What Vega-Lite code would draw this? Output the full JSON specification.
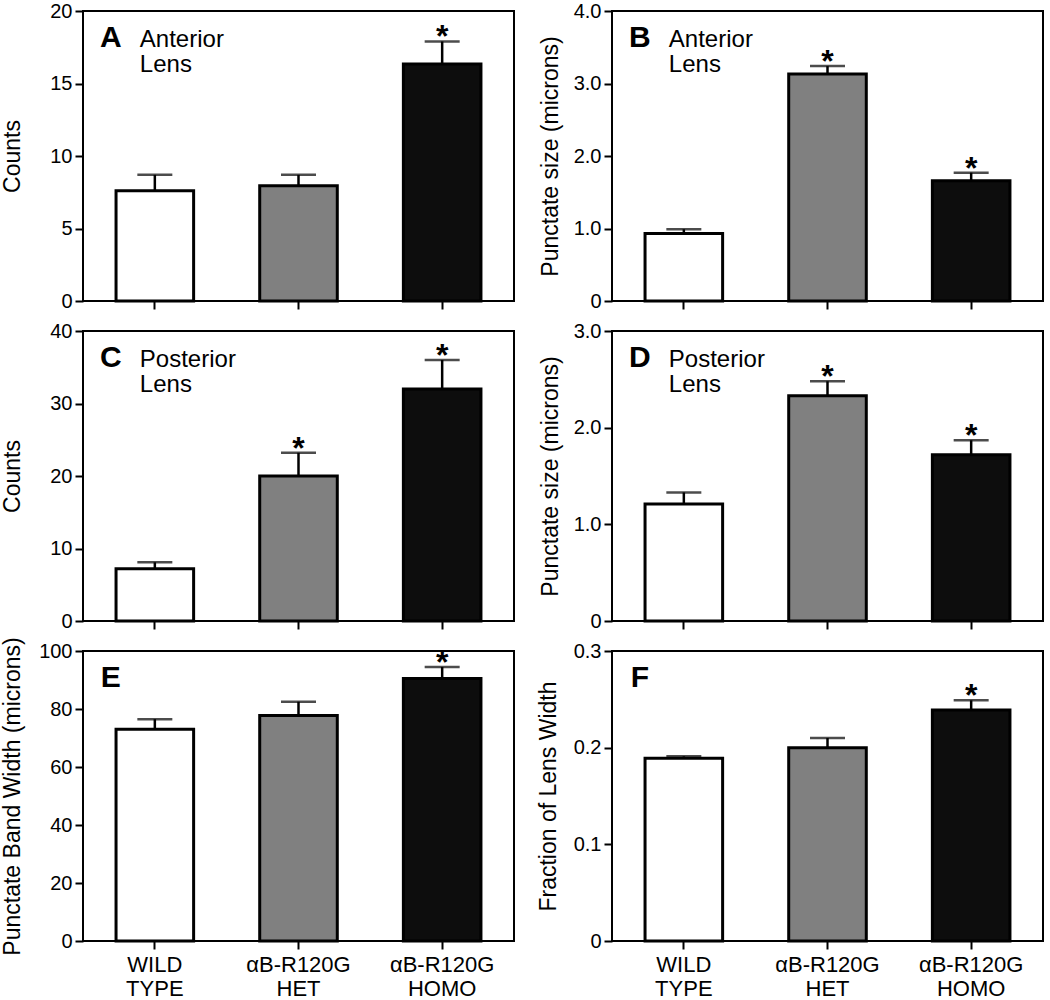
{
  "$schema": "https://vega.github.io/schema/vega-lite/v6.json",
  "background": "white",
  "padding": {"left": 0, "top": 0, "right": 5, "bottom": 0},
  "config": {
    "font": "Liberation Sans",
    "view": {"stroke": "black", "strokeWidth": 2},
    "axis": {"domain": false, "grid": false, "tickColor": "black", "tickSize": 8, "tickWidth": 2, "labelColor": "black", "titleColor": "black", "labelFont": "Liberation Sans", "titleFont": "Liberation Sans", "titleFontWeight": "normal", "labelFontSize": 20, "titleFontSize": 23, "labelPadding": 3},
    "text": {"color": "black", "font": "Liberation Sans"}
  },
  "datasets": {
    "A": [
      {"group": "WILD TYPE", "mean": 7.6, "upper": 8.7, "star": ""},
      {"group": "αB-R120G HET", "mean": 7.95, "upper": 8.7, "star": ""},
      {"group": "αB-R120G HOMO", "mean": 16.35, "upper": 17.9, "star": "*"}
    ],
    "B": [
      {"group": "WILD TYPE", "mean": 0.93, "upper": 0.99, "star": ""},
      {"group": "αB-R120G HET", "mean": 3.13, "upper": 3.24, "star": "*"},
      {"group": "αB-R120G HOMO", "mean": 1.66, "upper": 1.77, "star": "*"}
    ],
    "C": [
      {"group": "WILD TYPE", "mean": 7.2, "upper": 8.1, "star": ""},
      {"group": "αB-R120G HET", "mean": 20.0, "upper": 23.2, "star": "*"},
      {"group": "αB-R120G HOMO", "mean": 32.0, "upper": 36.0, "star": "*"}
    ],
    "D": [
      {"group": "WILD TYPE", "mean": 1.21, "upper": 1.33, "star": ""},
      {"group": "αB-R120G HET", "mean": 2.33, "upper": 2.48, "star": "*"},
      {"group": "αB-R120G HOMO", "mean": 1.72, "upper": 1.87, "star": "*"}
    ],
    "E": [
      {"group": "WILD TYPE", "mean": 73.0, "upper": 76.5, "star": ""},
      {"group": "αB-R120G HET", "mean": 77.8, "upper": 82.5, "star": ""},
      {"group": "αB-R120G HOMO", "mean": 90.5, "upper": 94.5, "star": "*"}
    ],
    "F": [
      {"group": "WILD TYPE", "mean": 0.189, "upper": 0.191, "star": ""},
      {"group": "αB-R120G HET", "mean": 0.2, "upper": 0.21, "star": ""},
      {"group": "αB-R120G HOMO", "mean": 0.239, "upper": 0.249, "star": "*"}
    ]
  },
  "concat": [
    {
      "width": 431, "height": 290,
      "data": {"name": "A"},
      "layer": [
        {"mark": {"type": "bar", "stroke": "black", "strokeWidth": 3},
         "encoding": {
           "x": {"field": "group", "type": "nominal", "scale": {"domain": ["WILD TYPE", "αB-R120G HET", "αB-R120G HOMO"], "paddingInner": 0.46, "paddingOuter": 0.23}, "axis": {"labels": false, "title": null}},
           "y": {"field": "mean", "type": "quantitative", "scale": {"domain": [0, 20], "nice": false}, "axis": {"values": [0, 5, 10, 15, 20], "title": "Counts", "titleX": -71, "titleY": 145, "titleBaseline": "middle", "titleAlign": "center", "titleAngle": -90}},
           "color": {"field": "group", "type": "nominal", "scale": {"domain": ["WILD TYPE", "αB-R120G HET", "αB-R120G HOMO"], "range": ["#ffffff", "#808080", "#0d0d0d"]}, "legend": null}
         }},
        {"mark": {"type": "rule", "strokeWidth": 2.5, "color": "black"},
         "encoding": {"x": {"field": "group", "type": "nominal"}, "y": {"field": "mean", "type": "quantitative"}, "y2": {"field": "upper"}}},
        {"mark": {"type": "tick", "color": "black", "thickness": 2.5, "size": 35},
         "encoding": {"x": {"field": "group", "type": "nominal"}, "y": {"field": "upper", "type": "quantitative"}}},
        {"mark": {"type": "text", "fontSize": 32, "fontWeight": "bold", "baseline": "alphabetic", "dy": 6},
         "encoding": {"x": {"field": "group", "type": "nominal"}, "y": {"field": "upper", "type": "quantitative"}, "text": {"field": "star"}}},
        {"data": {"values": [{"letter": "A", "region": ["Anterior", "Lens"]}]},
         "mark": {"type": "text", "fontSize": 30, "fontWeight": "bold", "align": "center", "baseline": "alphabetic", "dx": -44},
         "encoding": {"x": {"datum": "WILD TYPE", "type": "nominal"}, "y": {"datum": 17.5, "type": "quantitative"}, "text": {"field": "letter"}}},
        {"data": {"values": [{"letter": "A", "region": ["Anterior", "Lens"]}]},
         "mark": {"type": "text", "fontSize": 24, "align": "left", "baseline": "alphabetic", "dx": -15, "lineHeight": 25},
         "encoding": {"x": {"datum": "WILD TYPE", "type": "nominal"}, "y": {"datum": 17.5, "type": "quantitative"}, "text": {"field": "region"}}}
      ]
    },
    {
      "width": 431, "height": 290,
      "data": {"name": "B"},
      "layer": [
        {"mark": {"type": "bar", "stroke": "black", "strokeWidth": 3},
         "encoding": {
           "x": {"field": "group", "type": "nominal", "scale": {"domain": ["WILD TYPE", "αB-R120G HET", "αB-R120G HOMO"], "paddingInner": 0.46, "paddingOuter": 0.23}, "axis": {"labels": false, "title": null}},
           "y": {"field": "mean", "type": "quantitative", "scale": {"domain": [0, 4], "nice": false}, "axis": {"values": [0, 1, 2, 3, 4], "labelExpr": "datum.value == 0 ? '0' : format(datum.value, '.1f')", "title": "Punctate size (microns)", "titleX": -62, "titleY": 145, "titleBaseline": "middle", "titleAlign": "center", "titleAngle": -90}},
           "color": {"field": "group", "type": "nominal", "scale": {"domain": ["WILD TYPE", "αB-R120G HET", "αB-R120G HOMO"], "range": ["#ffffff", "#808080", "#0d0d0d"]}, "legend": null}
         }},
        {"mark": {"type": "rule", "strokeWidth": 2.5, "color": "black"},
         "encoding": {"x": {"field": "group", "type": "nominal"}, "y": {"field": "mean", "type": "quantitative"}, "y2": {"field": "upper"}}},
        {"mark": {"type": "tick", "color": "black", "thickness": 2.5, "size": 35},
         "encoding": {"x": {"field": "group", "type": "nominal"}, "y": {"field": "upper", "type": "quantitative"}}},
        {"mark": {"type": "text", "fontSize": 32, "fontWeight": "bold", "baseline": "alphabetic", "dy": 6},
         "encoding": {"x": {"field": "group", "type": "nominal"}, "y": {"field": "upper", "type": "quantitative"}, "text": {"field": "star"}}},
        {"data": {"values": [{"letter": "B", "region": ["Anterior", "Lens"]}]},
         "mark": {"type": "text", "fontSize": 30, "fontWeight": "bold", "align": "center", "baseline": "alphabetic", "dx": -44},
         "encoding": {"x": {"datum": "WILD TYPE", "type": "nominal"}, "y": {"datum": 3.5, "type": "quantitative"}, "text": {"field": "letter"}}},
        {"data": {"values": [{"letter": "B", "region": ["Anterior", "Lens"]}]},
         "mark": {"type": "text", "fontSize": 24, "align": "left", "baseline": "alphabetic", "dx": -15, "lineHeight": 25},
         "encoding": {"x": {"datum": "WILD TYPE", "type": "nominal"}, "y": {"datum": 3.5, "type": "quantitative"}, "text": {"field": "region"}}}
      ]
    },
    {
      "width": 431, "height": 290,
      "data": {"name": "C"},
      "layer": [
        {"mark": {"type": "bar", "stroke": "black", "strokeWidth": 3},
         "encoding": {
           "x": {"field": "group", "type": "nominal", "scale": {"domain": ["WILD TYPE", "αB-R120G HET", "αB-R120G HOMO"], "paddingInner": 0.46, "paddingOuter": 0.23}, "axis": {"labels": false, "title": null}},
           "y": {"field": "mean", "type": "quantitative", "scale": {"domain": [0, 40], "nice": false}, "axis": {"values": [0, 10, 20, 30, 40], "title": "Counts", "titleX": -71, "titleY": 145, "titleBaseline": "middle", "titleAlign": "center", "titleAngle": -90}},
           "color": {"field": "group", "type": "nominal", "scale": {"domain": ["WILD TYPE", "αB-R120G HET", "αB-R120G HOMO"], "range": ["#ffffff", "#808080", "#0d0d0d"]}, "legend": null}
         }},
        {"mark": {"type": "rule", "strokeWidth": 2.5, "color": "black"},
         "encoding": {"x": {"field": "group", "type": "nominal"}, "y": {"field": "mean", "type": "quantitative"}, "y2": {"field": "upper"}}},
        {"mark": {"type": "tick", "color": "black", "thickness": 2.5, "size": 35},
         "encoding": {"x": {"field": "group", "type": "nominal"}, "y": {"field": "upper", "type": "quantitative"}}},
        {"mark": {"type": "text", "fontSize": 32, "fontWeight": "bold", "baseline": "alphabetic", "dy": 6},
         "encoding": {"x": {"field": "group", "type": "nominal"}, "y": {"field": "upper", "type": "quantitative"}, "text": {"field": "star"}}},
        {"data": {"values": [{"letter": "C", "region": ["Posterior", "Lens"]}]},
         "mark": {"type": "text", "fontSize": 30, "fontWeight": "bold", "align": "center", "baseline": "alphabetic", "dx": -44},
         "encoding": {"x": {"datum": "WILD TYPE", "type": "nominal"}, "y": {"datum": 35, "type": "quantitative"}, "text": {"field": "letter"}}},
        {"data": {"values": [{"letter": "C", "region": ["Posterior", "Lens"]}]},
         "mark": {"type": "text", "fontSize": 24, "align": "left", "baseline": "alphabetic", "dx": -15, "lineHeight": 25},
         "encoding": {"x": {"datum": "WILD TYPE", "type": "nominal"}, "y": {"datum": 35, "type": "quantitative"}, "text": {"field": "region"}}}
      ]
    },
    {
      "width": 431, "height": 290,
      "data": {"name": "D"},
      "layer": [
        {"mark": {"type": "bar", "stroke": "black", "strokeWidth": 3},
         "encoding": {
           "x": {"field": "group", "type": "nominal", "scale": {"domain": ["WILD TYPE", "αB-R120G HET", "αB-R120G HOMO"], "paddingInner": 0.46, "paddingOuter": 0.23}, "axis": {"labels": false, "title": null}},
           "y": {"field": "mean", "type": "quantitative", "scale": {"domain": [0, 3], "nice": false}, "axis": {"values": [0, 1, 2, 3], "labelExpr": "datum.value == 0 ? '0' : format(datum.value, '.1f')", "title": "Punctate size (microns)", "titleX": -62, "titleY": 145, "titleBaseline": "middle", "titleAlign": "center", "titleAngle": -90}},
           "color": {"field": "group", "type": "nominal", "scale": {"domain": ["WILD TYPE", "αB-R120G HET", "αB-R120G HOMO"], "range": ["#ffffff", "#808080", "#0d0d0d"]}, "legend": null}
         }},
        {"mark": {"type": "rule", "strokeWidth": 2.5, "color": "black"},
         "encoding": {"x": {"field": "group", "type": "nominal"}, "y": {"field": "mean", "type": "quantitative"}, "y2": {"field": "upper"}}},
        {"mark": {"type": "tick", "color": "black", "thickness": 2.5, "size": 35},
         "encoding": {"x": {"field": "group", "type": "nominal"}, "y": {"field": "upper", "type": "quantitative"}}},
        {"mark": {"type": "text", "fontSize": 32, "fontWeight": "bold", "baseline": "alphabetic", "dy": 6},
         "encoding": {"x": {"field": "group", "type": "nominal"}, "y": {"field": "upper", "type": "quantitative"}, "text": {"field": "star"}}},
        {"data": {"values": [{"letter": "D", "region": ["Posterior", "Lens"]}]},
         "mark": {"type": "text", "fontSize": 30, "fontWeight": "bold", "align": "center", "baseline": "alphabetic", "dx": -44},
         "encoding": {"x": {"datum": "WILD TYPE", "type": "nominal"}, "y": {"datum": 2.625, "type": "quantitative"}, "text": {"field": "letter"}}},
        {"data": {"values": [{"letter": "D", "region": ["Posterior", "Lens"]}]},
         "mark": {"type": "text", "fontSize": 24, "align": "left", "baseline": "alphabetic", "dx": -15, "lineHeight": 25},
         "encoding": {"x": {"datum": "WILD TYPE", "type": "nominal"}, "y": {"datum": 2.625, "type": "quantitative"}, "text": {"field": "region"}}}
      ]
    },
    {
      "width": 431, "height": 290,
      "data": {"name": "E"},
      "layer": [
        {"mark": {"type": "bar", "stroke": "black", "strokeWidth": 3},
         "encoding": {
           "x": {"field": "group", "type": "nominal", "scale": {"domain": ["WILD TYPE", "αB-R120G HET", "αB-R120G HOMO"], "paddingInner": 0.46, "paddingOuter": 0.23}, "axis": {"title": null, "labelAngle": 0, "labelFontSize": 22, "labelLineHeight": 24, "labelPadding": 5, "labelExpr": "split(datum.label, ' ')"}},
           "y": {"field": "mean", "type": "quantitative", "scale": {"domain": [0, 100], "nice": false}, "axis": {"values": [0, 20, 40, 60, 80, 100], "title": "Punctate Band Width (microns)", "titleX": -71, "titleY": 145, "titleBaseline": "middle", "titleAlign": "center", "titleAngle": -90}},
           "color": {"field": "group", "type": "nominal", "scale": {"domain": ["WILD TYPE", "αB-R120G HET", "αB-R120G HOMO"], "range": ["#ffffff", "#808080", "#0d0d0d"]}, "legend": null}
         }},
        {"mark": {"type": "rule", "strokeWidth": 2.5, "color": "black"},
         "encoding": {"x": {"field": "group", "type": "nominal"}, "y": {"field": "mean", "type": "quantitative"}, "y2": {"field": "upper"}}},
        {"mark": {"type": "tick", "color": "black", "thickness": 2.5, "size": 35},
         "encoding": {"x": {"field": "group", "type": "nominal"}, "y": {"field": "upper", "type": "quantitative"}}},
        {"mark": {"type": "text", "fontSize": 32, "fontWeight": "bold", "baseline": "alphabetic", "dy": 6},
         "encoding": {"x": {"field": "group", "type": "nominal"}, "y": {"field": "upper", "type": "quantitative"}, "text": {"field": "star"}}},
        {"data": {"values": [{"letter": "E"}]},
         "mark": {"type": "text", "fontSize": 30, "fontWeight": "bold", "align": "center", "baseline": "alphabetic", "dx": -44},
         "encoding": {"x": {"datum": "WILD TYPE", "type": "nominal"}, "y": {"datum": 87.5, "type": "quantitative"}, "text": {"field": "letter"}}}
      ]
    },
    {
      "width": 431, "height": 290,
      "data": {"name": "F"},
      "layer": [
        {"mark": {"type": "bar", "stroke": "black", "strokeWidth": 3},
         "encoding": {
           "x": {"field": "group", "type": "nominal", "scale": {"domain": ["WILD TYPE", "αB-R120G HET", "αB-R120G HOMO"], "paddingInner": 0.46, "paddingOuter": 0.23}, "axis": {"title": null, "labelAngle": 0, "labelFontSize": 22, "labelLineHeight": 24, "labelPadding": 5, "labelExpr": "split(datum.label, ' ')"}},
           "y": {"field": "mean", "type": "quantitative", "scale": {"domain": [0, 0.3], "nice": false}, "axis": {"values": [0, 0.1, 0.2, 0.3], "labelExpr": "datum.value == 0 ? '0' : format(datum.value, '.1f')", "title": "Fraction of Lens Width", "titleX": -64, "titleY": 145, "titleBaseline": "middle", "titleAlign": "center", "titleAngle": -90}},
           "color": {"field": "group", "type": "nominal", "scale": {"domain": ["WILD TYPE", "αB-R120G HET", "αB-R120G HOMO"], "range": ["#ffffff", "#808080", "#0d0d0d"]}, "legend": null}
         }},
        {"mark": {"type": "rule", "strokeWidth": 2.5, "color": "black"},
         "encoding": {"x": {"field": "group", "type": "nominal"}, "y": {"field": "mean", "type": "quantitative"}, "y2": {"field": "upper"}}},
        {"mark": {"type": "tick", "color": "black", "thickness": 2.5, "size": 35},
         "encoding": {"x": {"field": "group", "type": "nominal"}, "y": {"field": "upper", "type": "quantitative"}}},
        {"mark": {"type": "text", "fontSize": 32, "fontWeight": "bold", "baseline": "alphabetic", "dy": 6},
         "encoding": {"x": {"field": "group", "type": "nominal"}, "y": {"field": "upper", "type": "quantitative"}, "text": {"field": "star"}}},
        {"data": {"values": [{"letter": "F"}]},
         "mark": {"type": "text", "fontSize": 30, "fontWeight": "bold", "align": "center", "baseline": "alphabetic", "dx": -44},
         "encoding": {"x": {"datum": "WILD TYPE", "type": "nominal"}, "y": {"datum": 0.2625, "type": "quantitative"}, "text": {"field": "letter"}}}
      ]
    }
  ],
  "columns": 2,
  "bounds": "flush",
  "spacing": {"row": 30, "column": 98}
}
